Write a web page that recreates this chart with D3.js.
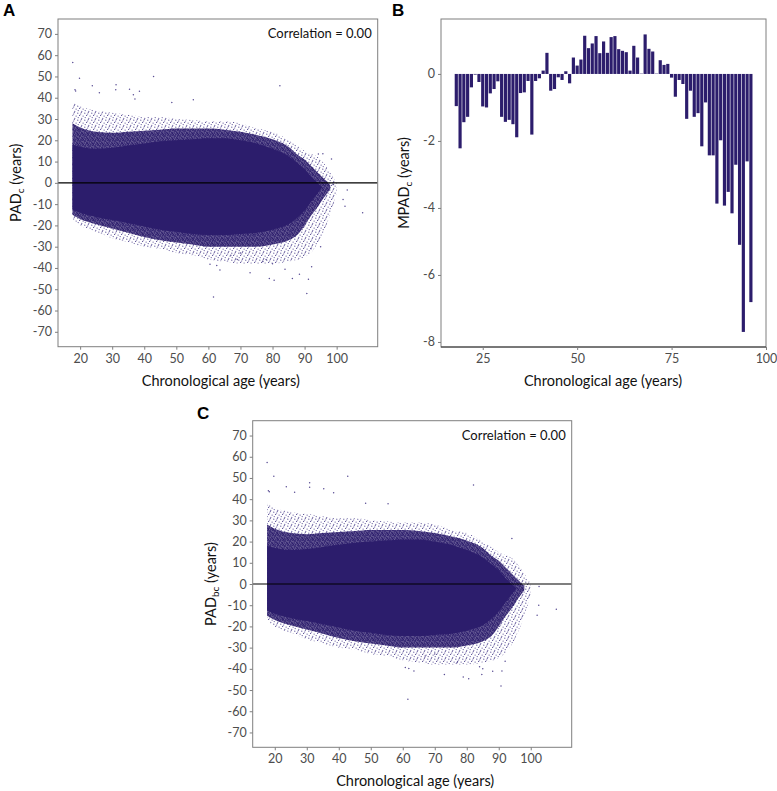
<!DOCTYPE html>
<html><head><meta charset="utf-8">
<script src="https://cdn.jsdelivr.net/npm/d3@7"></script>
<style>body{margin:0;background:#fff} text{font-family:Lato,'Open Sans',sans-serif}</style>
</head><body><svg id="c" width="777" height="791"></svg>
<script>
// ---------- Panel B data (mean PAD_c by age) ----------
const barAges = [18,19,20,21,22,23,24,25,26,27,28,29,30,31,32,33,34,35,36,37,38,39,40,41,42,43,44,45,46,47,48,49,50,51,52,53,54,55,56,57,58,59,60,61,62,63,64,65,66,67,68,69,70,71,72,73,74,75,76,77,78,79,80,81,82,83,84,85,86,87,88,89,90,91,92,93,94,95,96];
const barValues = [-0.96,-2.22,-1.44,-1.28,-0.40,-0.02,-0.24,-0.97,-1.00,-0.58,-0.45,-0.22,-1.28,-1.43,-1.37,-1.50,-1.89,-0.57,-0.55,-0.21,-1.81,-0.21,-0.13,0.10,0.63,-0.50,-0.45,-0.10,-0.18,0.08,-0.28,0.49,0.25,0.43,1.14,0.77,0.91,1.13,0.62,0.97,0.63,1.10,1.13,0.74,0.69,0.65,0.10,0.84,0.49,0.01,1.18,0.75,0.67,0.01,0.41,0.27,0.30,-0.11,-0.68,-0.18,-0.30,-1.34,-0.50,-1.28,-1.17,-2.16,-0.85,-2.43,-2.43,-3.87,-1.98,-3.93,-3.52,-4.16,-2.71,-5.10,-7.70,-2.61,-6.81];
const barYTicks = [0,-2,-4,-6,-8];
const barXTicks = [25,50,75,100];

// ---------- Panels A / C: scatter cloud envelopes (age, PAD) ----------
const envAges      = [17.6,20,25,30,35,40,45,50,55,60,65,70,75,80,85,88,90,92,94,95.5];
const coreUpper    = [18,17,16,16.5,17.5,18.5,19.5,20,20.5,21,21,20,18.5,16,12.5,9,6.5,3,0,-2];
const coreLower    = [-12.5,-14,-16,-17.5,-19,-20.5,-22,-23,-24,-24.5,-24.5,-24,-23.5,-22,-19.5,-16,-13,-9,-5,-2];
const haloAges     = [17.6,20,25,30,35,40,45,50,55,60,65,70,75,80,85,88,90,92,94,96,98];
const haloUpper    = [28,26,24,23.5,24,24.5,25,25.5,25.5,25.5,25,24,22.5,20.5,17,13,11,8,5,2,-1];
const haloLower    = [-15,-17,-19.5,-21.5,-23.5,-25.5,-27,-28,-29,-30,-30,-30,-30,-29,-27,-24,-20,-15.5,-11.5,-7,-3];
const outerAges    = [17.6,20,25,30,35,40,45,50,55,60,65,70,75,80,85,90,95,98,100];
const outerUpper   = [38,36,34,33,32,31,31,30,29.5,29,29,28,25.5,24,20,15,11,5,0];
const outerLower   = [-17,-20,-23,-26,-28,-30,-31,-33,-34,-36,-37,-38,-38,-38,-37,-35,-26,-15,-5];

// outlying points, panel A
const outAAge = [17.7,19.8,42.9,82.3,31.2,31.1,23.8,18.4,18.6,35.4,38.5,55.3,48.6,26,36.6,37.1,98.4,95.7,94.3,103.3,61.6,90.7,91.2,79,80.5,86.2,88.4,73,60.5,62.6,63.6,92.2,83.9,108.1,102,102.6,99,67,69,70,77,78,80,92,95];
const outAVal = [56.5,49.2,50.0,45.6,46.1,43.7,45.6,43.7,43.2,44,43.1,39,37.8,42.4,41.4,39.4,11.2,13.7,13.6,-3.4,-53.6,-52,-45.3,-45,-45.8,-45,-43,-42.2,-38.3,-38.8,-41,-39.4,-40.6,-14.1,-7.8,-11,-0.8,-34,-36,-33,-37,-36,-38,-31,-30];
// outlying points, panel C
const outCAge = [17.6,19.7,42.8,82.1,30.9,30.9,23.6,18,18.3,35.3,38.4,26.2,48.4,55.4,94.1,102.6,61.6,90.7,78.9,80.6,84.7,88.1,73,60.8,61.9,63.5,91,108,102.5,102,84,85,92,67,70,77];
const outCVal = [57.3,50.8,50.8,46.7,47.7,45.6,45.9,44,43.5,44.9,43,43.3,38.1,37.8,21.4,-1.2,-54.4,-48.1,-43.9,-44.7,-42.7,-41.1,-42.7,-39.4,-39.9,-41,-41,-11.9,-10,-14.7,-39,-40,-36.4,-34,-33,-37];

const scatterYTicks = [70,60,50,40,30,20,10,0,-10,-20,-30,-40,-50,-60,-70];
const scatterXTicks = [20,30,40,50,60,70,80,90,100];

// ---------- drawing ----------
const svg = d3.select('#c');
const INK = '#2c1d6c';
const GRID = '#7f7f7f';
const TXT = '#4d4d4d';
const defs = svg.append('defs');

// sparse speckle texture (outer fringe of the cloud)
(function(){
  const p = defs.append('pattern').attr('id','sparse').attr('patternUnits','userSpaceOnUse')
    .attr('width',7).attr('height',7);
  [[0.8,1.2],[4.3,0.6],[2.6,3.4],[6.1,4.1],[1.2,5.6],[4.8,6.3],[3.6,2.0]].forEach(([cx,cy])=>
    p.append('circle').attr('cx',cx).attr('cy',cy).attr('r',0.6).attr('fill','#5a4f96'));
})();
// dense speckle texture (inner fringe)
(function(){
  const p = defs.append('pattern').attr('id','dense').attr('patternUnits','userSpaceOnUse')
    .attr('width',5).attr('height',5);
  p.append('rect').attr('width',5).attr('height',5).attr('fill',INK).attr('opacity',0.72);
  [[0.6,0.9],[2.9,0.4],[1.8,2.4],[4.2,2.9],[0.9,4.2],[3.3,4.4],[4.4,1.1],[2.4,3.6]].forEach(([cx,cy])=>
    p.append('circle').attr('cx',cx).attr('cy',cy).attr('r',0.75).attr('fill',INK));
})();

function styleAxis(g){
  g.select('.domain').remove();
  g.selectAll('.tick line').attr('stroke', GRID);
  g.selectAll('.tick text').attr('fill', TXT).style('font-size','12.5px');
}

function scatterPanel(o){
  const x = d3.scaleLinear().domain([13.1,112.8]).range([o.x0,o.x1]);
  const y = d3.scaleLinear().domain([-77,77]).range([o.y1,o.y0]);
  const g = svg.append('g');
  const clipId = 'clip'+o.label;
  defs.append('clipPath').attr('id',clipId).append('rect')
    .attr('x',o.x0).attr('y',o.y0).attr('width',o.x1-o.x0).attr('height',o.y1-o.y0);
  const pg = g.append('g').attr('clip-path',`url(#${clipId})`);
  const area = (ages, lo, hi) => d3.area().curve(d3.curveMonotoneX)
      .x((d,i)=>x(ages[i])).y0((d,i)=>y(lo[i])).y1((d,i)=>y(hi[i]))(ages);
  pg.append('path').attr('d', area(outerAges, outerLower, outerUpper)).attr('fill','url(#sparse)');
  pg.append('path').attr('d', area(haloAges, haloLower, haloUpper)).attr('fill','url(#dense)');
  pg.append('path').attr('d', area(envAges, coreLower, coreUpper)).attr('fill',INK);
  pg.selectAll('circle.o').data(o.ages).join('circle').attr('class','o')
    .attr('cx',d=>x(d)).attr('cy',(d,i)=>y(o.vals[i])).attr('r',0.75).attr('fill','#5a4e94');
  pg.append('line').attr('x1',o.x0).attr('x2',o.x1).attr('y1',y(0)).attr('y2',y(0))
    .attr('stroke','#000').attr('stroke-width',1.1);
  g.append('rect').attr('x',o.x0).attr('y',o.y0).attr('width',o.x1-o.x0).attr('height',o.y1-o.y0)
    .attr('fill','none').attr('stroke',GRID).attr('stroke-width',1);
  g.append('g').attr('transform',`translate(${o.x0},0)`)
    .call(d3.axisLeft(y).tickValues(scatterYTicks).tickSize(3).tickPadding(3).tickFormat(d=>String(d))).call(styleAxis);
  g.append('g').attr('transform',`translate(0,${o.y1})`)
    .call(d3.axisBottom(x).tickValues(scatterXTicks).tickSize(3).tickPadding(4).tickFormat(d=>String(d))).call(styleAxis);
  g.append('text').attr('x',o.x1-6).attr('y',o.y0+19).attr('text-anchor','end')
    .style('font-size','13px').attr('fill','#111').text('Correlation = 0.00');
  g.append('text').attr('x',(o.x0+o.x1)/2+3).attr('y',o.y1+39).attr('text-anchor','middle')
    .style('font-size','14.5px').attr('fill','#111').text('Chronological age (years)');
  const yt = g.append('text').attr('transform',`translate(${o.x0-37},${(o.y0+o.y1)/2}) rotate(-90)`)
    .attr('text-anchor','middle').style('font-size','14.5px').attr('fill','#111');
  yt.append('tspan').text('PAD');
  yt.append('tspan').attr('dy',3).style('font-size','10px').text(o.sub);
  yt.append('tspan').attr('dy',-3).text(' (years)');
  svg.append('text').attr('x',o.lx).attr('y',o.ly).style('font-size','17px').style('font-weight','bold')
    .style('font-family','Arial, Liberation Sans, sans-serif').text(o.label);
}

scatterPanel({label:'A', x0:58, x1:377.7, y0:19, y1:346.7, ages:outAAge, vals:outAVal, sub:'c', lx:3, ly:16});
scatterPanel({label:'C', x0:252.7, x1:571.7, y0:420.7, y1:747.3, ages:outCAge, vals:outCVal, sub:'bc', lx:197, ly:419});

// Panel B
(function(){
  const x0=441, x1=766, y0=19, y1=347;
  const x = d3.scaleLinear().domain([13.95,100]).range([x0,x1]);
  const y = d3.scaleLinear().domain([-8.15,1.64]).range([y1,y0]);
  const g = svg.append('g');
  g.append('rect').attr('x',x0).attr('y',y0).attr('width',x1-x0).attr('height',y1-y0)
    .attr('fill','none').attr('stroke',GRID).attr('stroke-width',1);
  g.selectAll('rect.bar').data(barAges).join('rect').attr('class','bar')
    .attr('x',d=>x(d-0.5)+0.3).attr('width',d=>x(d+0.5)-x(d-0.5)-0.6)
    .attr('y',(d,i)=>y(Math.max(0,barValues[i])))
    .attr('height',(d,i)=>Math.abs(y(barValues[i])-y(0)))
    .attr('fill',INK);
  g.append('line').attr('x1',x0).attr('x2',x1).attr('y1',y1).attr('y2',y1).attr('stroke','#333');
  g.append('g').attr('transform',`translate(${x0},0)`)
    .call(d3.axisLeft(y).tickValues(barYTicks).tickSize(3).tickPadding(3).tickFormat(d=>String(d))).call(styleAxis);
  g.append('g').attr('transform',`translate(0,${y1})`)
    .call(d3.axisBottom(x).tickValues(barXTicks).tickSize(3).tickPadding(4).tickFormat(d=>String(d))).call(styleAxis);
  g.append('text').attr('x',603).attr('y',y1+39).attr('text-anchor','middle')
    .style('font-size','14.5px').attr('fill','#111').text('Chronological age (years)');
  const yt = g.append('text').attr('transform',`translate(409,${(y0+y1)/2}) rotate(-90)`)
    .attr('text-anchor','middle').style('font-size','14.5px').attr('fill','#111');
  yt.append('tspan').text('MPAD');
  yt.append('tspan').attr('dy',3).style('font-size','10px').text('c');
  yt.append('tspan').attr('dy',-3).text(' (years)');
  svg.append('text').attr('x',392).attr('y',16).style('font-size','17px').style('font-weight','bold')
    .style('font-family','Arial, Liberation Sans, sans-serif').text('B');
})();
</script></body></html>
